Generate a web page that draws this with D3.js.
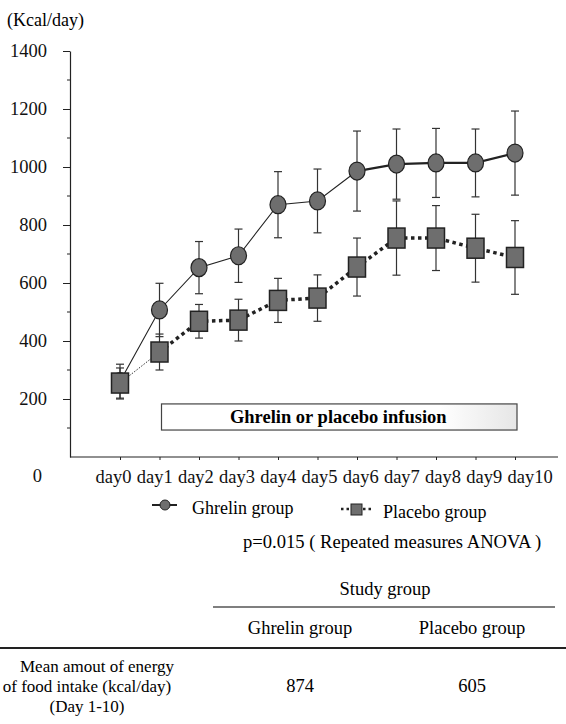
<!DOCTYPE html>
<html lang="en">
<head>
<meta charset="utf-8">
<title>Food intake</title>
<script src="https://cdnjs.cloudflare.com/ajax/libs/d3/7.8.5/d3.min.js"></script>
<style>
  body { margin: 0; background: #fff; }
  svg { display: block; font-family: "Liberation Serif", "DejaVu Serif", serif; }
  .axis text { font-size: 18.5px; fill: #111; font-family: "Liberation Serif", "DejaVu Serif", serif; }
  .axis path, .axis line { stroke: #222; }
</style>
</head>
<body>
<div id="chart"></div>
<script>
const width = 566;
const height = 724;
const margin = ({left: 70, top: 51, bottom: 457});

// data (kcal/day, mean and error bar half-length)
const days = ["day0", "day1", "day2", "day3", "day4", "day5", "day6", "day7", "day8", "day9", "day10"];
const ghrelinMean = [260, 507, 653, 694, 870, 883, 986, 1010, 1014, 1014, 1048];
const ghrelinErr = [60, 92, 90, 92, 114, 110, 138, 121, 119, 117, 145];
const placeboMean = [255, 362, 468, 472, 540, 548, 655, 755, 755, 720, 688];
const placeboErr = [52, 62, 58, 72, 76, 80, 100, 128, 112, 117, 127];
const yTicks = [0, 200, 400, 600, 800, 1000, 1200, 1400];
const yMinorTicks = [100, 300, 500, 700, 900, 1100, 1300];
const infusion = ({from: "day1", to: "day10", top: 183, bottom: 93});
const tableGroups = ["Ghrelin group", "Placebo group"];
const tableValues = [874, 605];
const rowLabel = ["Mean amout of energy", "of food intake (kcal/day)", "(Day 1-10)"];

const svg = d3.select("#chart")
  .append("svg")
  .attr("width", width)
  .attr("height", height);

const xScale = d3.scalePoint()
  .domain(days)
  .range([120, 515]);

// the day labels are typeset as one evenly spaced line, slightly wider than the ticks
const labelScale = d3.scalePoint()
  .domain(days)
  .range([95, 507]);

const yScale = d3.scaleLinear()
  .domain([0, 1400])
  .range([margin.bottom, margin.top]);

// y axis
const yAxis = svg.append("g")
  .attr("class", "axis")
  .attr("transform", "translate(" + margin.left + ",0)")
  .call(d3.axisLeft(yScale).tickValues(yTicks).tickFormat(d3.format("d"))
    .tickSize(7).tickPadding(16).tickSizeOuter(0));
yAxis.select(".domain").attr("stroke-width", 1.2);
yAxis.selectAll(".tick")
  .filter(d => d === 0)
  .call(g => g.select("line").remove())
  .select("text")
    .attr("x", -28)
    .attr("dy", "1.3em");

svg.append("g")
  .selectAll("line")
  .data(yMinorTicks)
  .enter()
  .append("line")
    .attr("x1", margin.left - 3)
    .attr("x2", margin.left)
    .attr("y1", d => yScale(d))
    .attr("y2", d => yScale(d))
    .attr("stroke", "#222");

svg.append("text")
  .attr("x", 7)
  .attr("y", 26)
  .attr("font-size", 18)
  .text("(Kcal/day)");

// x axis
svg.append("line")
  .attr("x1", margin.left)
  .attr("x2", 558)
  .attr("y1", yScale(0))
  .attr("y2", yScale(0))
  .attr("stroke", "#222")
  .attr("stroke-width", 1.2);

const xAxis = svg.append("g")
  .attr("class", "axis")
  .attr("transform", "translate(0," + yScale(0) + ")")
  .call(d3.axisBottom(xScale).tickSize(3).tickPadding(10));
xAxis.select(".domain").remove();
xAxis.selectAll(".tick text")
  .attr("text-anchor", "start")
  .attr("x", d => labelScale(d) - xScale(d));

// infusion box
const grad = svg.append("defs")
  .append("linearGradient")
  .attr("id", "boxfill");
grad.append("stop").attr("offset", "0%").attr("stop-color", "#fff");
grad.append("stop").attr("offset", "78%").attr("stop-color", "#fff");
grad.append("stop").attr("offset", "100%").attr("stop-color", "#e6e6e6");

svg.append("rect")
  .attr("x", xScale(infusion.from) + 2)
  .attr("y", yScale(infusion.top))
  .attr("width", xScale(infusion.to) - xScale(infusion.from))
  .attr("height", yScale(infusion.bottom) - yScale(infusion.top))
  .attr("fill", "url(#boxfill)")
  .attr("stroke", "#444")
  .attr("stroke-width", 1.2);

svg.append("text")
  .attr("x", (xScale(infusion.from) + xScale(infusion.to)) / 2 + 1)
  .attr("y", yScale((infusion.top + infusion.bottom) / 2) + 6)
  .attr("text-anchor", "middle")
  .attr("font-size", 18.5)
  .attr("font-weight", "bold")
  .text("Ghrelin or placebo infusion");

// series data
const ghrelin = days.map((d, i) => ({day: d, mean: ghrelinMean[i], err: ghrelinErr[i]}));
const placebo = days.map((d, i) => ({day: d, mean: placeboMean[i], err: placeboErr[i]}));

const line = d3.line()
  .x(d => xScale(d.day))
  .y(d => yScale(d.mean));

// error bars
function errorBars(data) {
  const g = svg.append("g")
    .attr("stroke", "#333")
    .attr("stroke-width", 1.2);
  g.selectAll("line.v")
    .data(data)
    .enter()
    .append("line")
      .attr("x1", d => xScale(d.day))
      .attr("x2", d => xScale(d.day))
      .attr("y1", d => yScale(d.mean + d.err))
      .attr("y2", d => yScale(d.mean - d.err));
  g.selectAll("line.top")
    .data(data)
    .enter()
    .append("line")
      .attr("x1", d => xScale(d.day) - 4)
      .attr("x2", d => xScale(d.day) + 4)
      .attr("y1", d => yScale(d.mean + d.err))
      .attr("y2", d => yScale(d.mean + d.err));
  g.selectAll("line.bottom")
    .data(data)
    .enter()
    .append("line")
      .attr("x1", d => xScale(d.day) - 4)
      .attr("x2", d => xScale(d.day) + 4)
      .attr("y1", d => yScale(d.mean - d.err))
      .attr("y2", d => yScale(d.mean - d.err));
}
errorBars(ghrelin);
errorBars(placebo);

// ghrelin line: thin until day6, thicker afterwards
svg.append("path")
  .datum(ghrelin.slice(0, 7))
  .attr("d", line)
  .attr("fill", "none")
  .attr("stroke", "#222")
  .attr("stroke-width", 1.1);
svg.append("path")
  .datum(ghrelin.slice(6))
  .attr("d", line)
  .attr("fill", "none")
  .attr("stroke", "#222")
  .attr("stroke-width", 2.2);

// placebo line: fine dots to day1, heavy dots afterwards
svg.append("path")
  .datum(placebo.slice(0, 2))
  .attr("d", line)
  .attr("fill", "none")
  .attr("stroke", "#333")
  .attr("stroke-width", 1)
  .attr("stroke-dasharray", "1.5,1.5");
svg.append("path")
  .datum(placebo.slice(1))
  .attr("d", line)
  .attr("fill", "none")
  .attr("stroke", "#222")
  .attr("stroke-width", 3.5)
  .attr("stroke-dasharray", "3.5,3.5");

// markers
svg.append("g")
  .selectAll("ellipse")
  .data(ghrelin)
  .enter()
  .append("ellipse")
    .attr("cx", d => xScale(d.day))
    .attr("cy", d => yScale(d.mean))
    .attr("rx", 8)
    .attr("ry", 9)
    .attr("fill", "#6e6e6e")
    .attr("stroke", "#222")
    .attr("stroke-width", 1.2);

svg.append("g")
  .selectAll("rect")
  .data(placebo)
  .enter()
  .append("rect")
    .attr("x", d => xScale(d.day) - 8.5)
    .attr("y", d => yScale(d.mean) - 10)
    .attr("width", 17)
    .attr("height", 20)
    .attr("fill", "#6e6e6e")
    .attr("stroke", "#222")
    .attr("stroke-width", 1.5);

// legend
const legend = svg.append("g").attr("font-size", 18);
legend.append("line")
  .attr("x1", 152).attr("x2", 177)
  .attr("y1", 505).attr("y2", 505)
  .attr("stroke", "#222").attr("stroke-width", 2);
legend.append("ellipse")
  .attr("cx", 165).attr("cy", 505)
  .attr("rx", 5).attr("ry", 5)
  .attr("fill", "#6e6e6e").attr("stroke", "#222");
legend.append("text").attr("x", 192).attr("y", 514).text("Ghrelin group");

legend.append("line")
  .attr("x1", 341).attr("x2", 372)
  .attr("y1", 509).attr("y2", 509)
  .attr("stroke", "#222").attr("stroke-width", 2.5)
  .attr("stroke-dasharray", "2.5,3");
legend.append("rect")
  .attr("x", 351).attr("y", 504)
  .attr("width", 11).attr("height", 11)
  .attr("fill", "#6e6e6e").attr("stroke", "#222");
legend.append("text").attr("x", 383).attr("y", 518).text("Placebo group");

svg.append("text")
  .attr("x", 243)
  .attr("y", 548)
  .attr("font-size", 18.6)
  .text("p=0.015 ( Repeated measures ANOVA )");

// summary table
const colX = [300, 472];
const table = svg.append("g").attr("font-size", 18.5).attr("text-anchor", "middle");
table.append("text").attr("x", 385).attr("y", 595).text("Study group");
table.append("line")
  .attr("x1", 213).attr("x2", 555)
  .attr("y1", 607).attr("y2", 607)
  .attr("stroke", "#555").attr("stroke-width", 1.3);
table.selectAll("text.group")
  .data(tableGroups)
  .enter()
  .append("text")
    .attr("x", (d, i) => colX[i])
    .attr("y", 634)
    .text(d => d);
table.append("line")
  .attr("x1", 0).attr("x2", width)
  .attr("y1", 648).attr("y2", 648)
  .attr("stroke", "#222").attr("stroke-width", 2);
table.selectAll("text.value")
  .data(tableValues)
  .enter()
  .append("text")
    .attr("x", (d, i) => colX[i])
    .attr("y", 692)
    .text(d => d);
table.selectAll("text.row")
  .data(rowLabel)
  .enter()
  .append("text")
    .attr("x", (d, i) => [97, 87, 87][i])
    .attr("y", (d, i) => 672 + i * 20)
    .attr("font-size", 17)
    .text(d => d);
</script>
</body>
</html>
